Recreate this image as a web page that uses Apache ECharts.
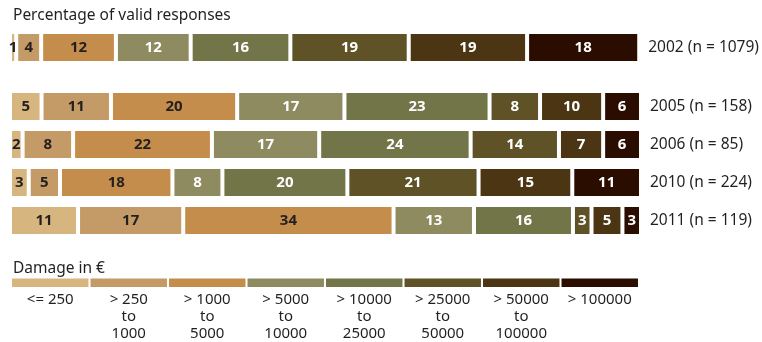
<!DOCTYPE html>
<html>
<head>
<meta charset="utf-8">
<script src="https://cdn.jsdelivr.net/npm/echarts@6/dist/echarts.min.js"></script>
<style>html,body{margin:0;padding:0;background:#fff}#c{width:762px;height:342px}</style>
</head>
<body>
<div id="c"></div>
<script>
const damageClasses = ['<= 250', '> 250\nto\n1000', '> 1000\nto\n5000', '> 5000\nto\n10000', '> 10000\nto\n25000', '> 25000\nto\n50000', '> 50000\nto\n100000', '> 100000'];
const rowLabelsTop = ['2002 (n = 1079)'];
const rowLabels = ['2005 (n = 158)', '2006 (n = 85)', '2010 (n = 224)', '2011 (n = 119)'];
const v2002 = [1, 4, 12, 12, 16, 19, 19, 18];
const v2005 = [5, 11, 20, 17, 23, 8, 10, 6];
const v2006 = [2, 8, 22, 17, 24, 14, 7, 6];
const v2010 = [3, 5, 18, 8, 20, 21, 15, 11];
const v2011 = [11, 17, 34, 13, 16, 3, 5, 3];
const colors = ['#d7b57f', '#c49a66', '#c58d4b', '#8e8b61', '#717548', '#5f5226', '#4b3513', '#2b0d00'];
const textColors = ['#231f20', '#231f20', '#231f20', '#fff', '#fff', '#fff', '#fff', '#fff'];

const topRows = [v2002];
const bottomRows = [v2005, v2006, v2010, v2011];
const sum = a => a.reduce((s, x) => s + x, 0);
const FONT = 'Noto Sans';

const series = [];
function addSeries(rowsData, gridIdx) {
  for (let k = 0; k < colors.length; k++) {
    series.push({
      type: 'bar',
      stack: 'g' + gridIdx,
      xAxisIndex: gridIdx,
      yAxisIndex: gridIdx,
      barWidth: 31,
      data: rowsData.map(r => ({ value: r[k] / sum(r) * 100, raw: r[k] })),
      itemStyle: { color: colors[k], borderColor: '#fff', borderWidth: 2 },
      label: {
        show: true,
        position: 'inside',
        formatter: p => String(p.data.raw),
        color: textColors[k],
        fontFamily: FONT,
        fontWeight: 'bold',
        fontSize: 15
      },
      silent: true
    });
  }
}
addSeries(topRows, 0);
addSeries(bottomRows, 1);

series.push({
  type: 'bar',
  xAxisIndex: 2,
  yAxisIndex: 2,
  barCategoryGap: '2.6%',
  data: damageClasses.map((c, i) => ({ value: 1, itemStyle: { color: colors[i] } })),
  silent: true
});

const option = {
  animation: false,
  backgroundColor: '#fff',
  title: [
    { text: 'Percentage of valid responses', left: 8, top: 3, textStyle: { fontFamily: FONT, fontSize: 15.5, fontWeight: 'normal', color: '#231f20' } },
    { text: 'Damage in €', left: 8, top: 256, textStyle: { fontFamily: FONT, fontSize: 15.5, fontWeight: 'normal', color: '#231f20' } }
  ],
  grid: [
    { left: 10, right: 121, top: 28.5, height: 38 },
    { left: 10, right: 121, top: 87.5, height: 152 },
    { left: 11, right: 123, top: 278.5, height: 11 }
  ],
  xAxis: [
    { type: 'value', gridIndex: 0, min: 0, max: 100, show: false },
    { type: 'value', gridIndex: 1, min: 0, max: 100, show: false },
    {
      type: 'category', gridIndex: 2, data: damageClasses,
      axisLine: { show: false }, axisTick: { show: false },
      axisLabel: { interval: 0, margin: 4, fontFamily: FONT, fontSize: 15, lineHeight: 17, color: '#231f20' }
    }
  ],
  yAxis: [
    {
      type: 'category', gridIndex: 0, data: rowLabelsTop, position: 'right',
      axisLine: { show: false }, axisTick: { show: false },
      axisLabel: { margin: 9, fontFamily: FONT, fontSize: 15.5, color: '#231f20' }
    },
    {
      type: 'category', gridIndex: 1, data: rowLabels, position: 'right', inverse: true,
      axisLine: { show: false }, axisTick: { show: false },
      axisLabel: { margin: 9, fontFamily: FONT, fontSize: 15.5, color: '#231f20' }
    },
    { type: 'value', gridIndex: 2, min: 0, max: 1, show: false }
  ],
  series: series
};
echarts.init(document.getElementById('c'), null, { renderer: 'canvas' }).setOption(option);
</script>
</body>
</html>
